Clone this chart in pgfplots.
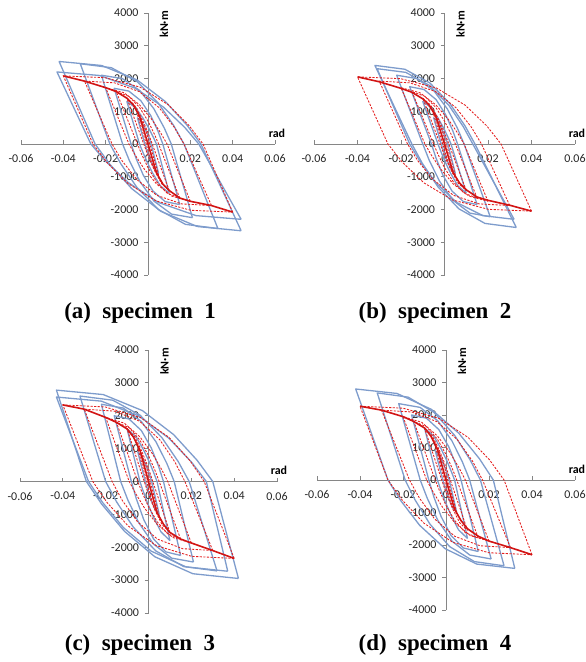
\documentclass[border=0pt]{standalone}
\usepackage{pgfplots}
\pgfplotsset{compat=1.18}
\usepackage{fontspec}
\newfontfamily\tickfont{Carlito}
\newfontfamily\capfont{Liberation Serif}
\definecolor{axgray}{RGB}{134,134,134}
\definecolor{bl}{RGB}{126,156,204}
\definecolor{rd}{RGB}{228,30,30}
\definecolor{rs}{RGB}{210,20,20}
\pgfplotsset{
 panel/.style={
  scale only axis, anchor=south west,
  xmin=-0.06, xmax=0.06, ymin=-4000, ymax=4000,
  axis lines=middle,
  axis line style={draw=axgray, line width=0.8bp, -},
  every inner x axis line/.append style={-},
  every inner y axis line/.append style={-},
  xtick={-0.06,-0.04,-0.02,0,0.02,0.04,0.06},
  xticklabels={-0.06,-0.04,-0.02,0,0.02,0.04,0.06},
  ytick={-4000,-3000,-2000,-1000,0,1000,2000,3000,4000},
  yticklabels={-4000,-3000,-2000,-1000,0,1000,2000,3000,4000},
  scaled x ticks=false, scaled y ticks=false,
  tick style={draw=axgray, line width=0.8bp},
  major tick length=4bp,
  tick align=center,
  every x tick/.append style={yshift=2bp},
  every y tick/.append style={xshift=-2bp},
  hide obscured x ticks=false, hide obscured y ticks=false,
  tick label style={font=\tickfont\fontsize{12}{14}\selectfont, text=black!85},
  xticklabel style={yshift=-5bp},
  yticklabel style={xshift=-4bp},
  clip=false,
 },
 bloop/.style={draw=bl, line width=1.3bp, mark=none, line join=round},
 rloop/.style={draw=rd, line width=0.85bp, dash pattern=on 2.2bp off 1.4bp, mark=none},
 rskel/.style={draw=rs, line width=1.6bp, mark=none},
}
\newcommand{\axlabels}{%
  \node[font=\tickfont\bfseries\fontsize{12}{14}\selectfont, anchor=south, yshift=3bp, xshift=2bp] at (axis cs:0.06,0) {rad};
  \node[xshift=16bp, yshift=3bp, rotate=90, anchor=east, font=\tickfont\bfseries\fontsize{12}{14}\selectfont, inner sep=1bp] at (axis cs:0,4000) {kN·m};
}
\begin{document}
\begin{tikzpicture}
\useasboundingbox (0bp,0bp) rectangle (586bp,662bp);
% ---------------- (a)
\begin{axis}[panel, at={(21bp,387bp)}, width=254bp, height=262bp]
\addplot[bloop] coordinates {(0.005,-900)(0.0015,0)(0.00085,120)(-0.000125,288)(-0.001425,480)(-0.00305,680)(-0.005,800)(-0.0015,0)(-0.00085,-135)(0.000125,-324)(0.001425,-540)(0.00305,-765)(0.005,-900)};
\addplot[bloop] coordinates {(0.01,-1500)(0.004,0)(0.0026,195)(0.0005,468)(-0.0023,780)(-0.0058,1105)(-0.01,1300)(-0.004,0)(-0.0026,-225)(-0.0005,-540)(0.0023,-900)(0.0058,-1275)(0.01,-1500)};
\addplot[bloop] coordinates {(0.015,-1850)(0.007,0)(0.0047,394)(0.00125,872)(-0.00335,1319)(-0.0091,1617)(-0.016,1700)(-0.008,0)(-0.0057,-429)(-0.00225,-949)(0.00235,-1436)(0.0081,-1759)(0.015,-1850)};
\addplot[bloop] coordinates {(0.021,-2250)(0.011,0)(0.0077,487)(0.00275,1077)(-0.00385,1630)(-0.0121,1997)(-0.022,2100)(-0.012,0)(-0.0087,-522)(-0.00375,-1154)(0.00285,-1746)(0.0111,-2140)(0.021,-2250)};
\addplot[bloop] coordinates {(0.033,-2580)(0.017,0)(0.0121,568)(0.00475,1257)(-0.00505,1901)(-0.0173,2330)(-0.032,2450)(-0.018,0)(-0.0129,-599)(-0.00525,-1324)(0.00495,-2002)(0.0177,-2454)(0.033,-2580)};
\addplot[bloop] coordinates {(0.044,-2650)(0.025,0)(0.0183,585)(0.00825,1293)(-0.00515,1956)(-0.0219,2397)(-0.042,2520)(-0.025,0)(-0.0181,-615)(-0.00775,-1359)(0.00605,-2056)(0.0233,-2520)(0.044,-2650)};
\addplot[bloop] coordinates {(0.044,-2300)(0.024,0)(0.0173,510)(0.00725,1129)(-0.00615,1707)(-0.0229,2092)(-0.043,2200)(-0.027,0)(-0.0199,-534)(-0.00925,-1180)(0.00495,-1785)(0.0227,-2187)(0.044,-2300)};
\addplot[rloop] coordinates {(0.005,-950)(0.0008,0)(0.00022,135)(-0.00065,324)(-0.00181,540)(-0.00326,765)(-0.005,900)(-0.0008,0)(-0.00022,-143)(0.00065,-342)(0.00181,-570)(0.00326,-808)(0.005,-950)};
\addplot[rloop] coordinates {(0.01,-1420)(0.002,0)(0.0008,210)(-0.001,504)(-0.0034,840)(-0.0064,1190)(-0.01,1400)(-0.002,0)(-0.0008,-213)(0.001,-511)(0.0034,-852)(0.0064,-1207)(0.01,-1420)};
\addplot[rloop] coordinates {(0.015,-1650)(0.005,0)(0.003,304)(0,700)(-0.004,1116)(-0.009,1456)(-0.015,1600)(-0.005,0)(-0.003,-314)(0,-722)(0.004,-1151)(0.009,-1502)(0.015,-1650)};
\addplot[rloop] coordinates {(0.02,-1750)(0.009,0)(0.0061,327)(0.00175,753)(-0.00405,1200)(-0.0113,1565)(-0.02,1720)(-0.009,0)(-0.0061,-333)(-0.00175,-766)(0.00405,-1221)(0.0113,-1593)(0.02,-1750)};
\addplot[rloop] coordinates {(0.03,-1880)(0.017,0)(0.0123,520)(0.00525,1110)(-0.00415,1601)(-0.0159,1868)(-0.03,1920)(-0.017,0)(-0.0123,-509)(-0.00525,-1087)(0.00415,-1568)(0.0159,-1829)(0.03,-1880)};
\addplot[rloop] coordinates {(0.04,-2080)(0.026,0)(0.0194,564)(0.0095,1202)(-0.0037,1735)(-0.0202,2024)(-0.04,2080)(-0.026,0)(-0.0194,-564)(-0.0095,-1202)(0.0037,-1735)(0.0202,-2024)(0.04,-2080)};
\addplot[rskel] coordinates {(-0.04,2080)(-0.03,1920)(-0.02,1720)(-0.015,1600)(-0.01,1400)(-0.007,1200)(-0.004,850)(0,0)(0.004,-880)(0.007,-1220)(0.01,-1420)(0.015,-1650)(0.02,-1750)(0.03,-1880)(0.04,-2080)};
\axlabels
\end{axis}
% ---------------- (b)
\begin{axis}[panel, at={(314bp,387bp)}, width=261bp, height=262bp]
\addplot[bloop] coordinates {(0.005,-900)(0.0015,0)(0.00085,120)(-0.000125,288)(-0.001425,480)(-0.00305,680)(-0.005,800)(-0.0015,0)(-0.00085,-135)(0.000125,-324)(0.001425,-540)(0.00305,-765)(0.005,-900)};
\addplot[bloop] coordinates {(0.01,-1500)(0.003,0)(0.0017,195)(-0.00025,468)(-0.00285,780)(-0.0061,1105)(-0.01,1300)(-0.003,0)(-0.0017,-225)(0.00025,-540)(0.00285,-900)(0.0061,-1275)(0.01,-1500)};
\addplot[bloop] coordinates {(0.015,-1850)(0.006,0)(0.0038,406)(0.0005,898)(-0.0039,1358)(-0.0094,1664)(-0.016,1750)(-0.006,0)(-0.0039,-429)(-0.00075,-949)(0.00345,-1436)(0.0087,-1759)(0.015,-1850)};
\addplot[bloop] coordinates {(0.021,-2220)(0.009,0)(0.0059,487)(0.00125,1077)(-0.00495,1630)(-0.0127,1997)(-0.022,2100)(-0.01,0)(-0.0069,-515)(-0.00225,-1139)(0.00395,-1723)(0.0117,-2111)(0.021,-2220)};
\addplot[bloop] coordinates {(0.033,-2550)(0.014,0)(0.0094,557)(0.0025,1231)(-0.0067,1862)(-0.0182,2282)(-0.032,2400)(-0.015,0)(-0.0102,-592)(-0.003,-1308)(0.0066,-1979)(0.0186,-2425)(0.033,-2550)};
\addplot[bloop] coordinates {(0.032,-2300)(0.013,0)(0.0086,534)(0.002,1180)(-0.0068,1785)(-0.0178,2187)(-0.031,2300)(-0.016,0)(-0.0112,-534)(-0.004,-1180)(0.0056,-1785)(0.0176,-2187)(0.032,-2300)};
\addplot[rloop] coordinates {(0.005,-950)(0.0008,0)(0.00022,135)(-0.00065,324)(-0.00181,540)(-0.00326,765)(-0.005,900)(-0.0008,0)(-0.00022,-143)(0.00065,-342)(0.00181,-570)(0.00326,-808)(0.005,-950)};
\addplot[rloop] coordinates {(0.01,-1420)(0.002,0)(0.0008,210)(-0.001,504)(-0.0034,840)(-0.0064,1190)(-0.01,1400)(-0.002,0)(-0.0008,-213)(0.001,-511)(0.0034,-852)(0.0064,-1207)(0.01,-1420)};
\addplot[rloop] coordinates {(0.015,-1650)(0.005,0)(0.003,304)(0,700)(-0.004,1116)(-0.009,1456)(-0.015,1600)(-0.005,0)(-0.003,-314)(0,-722)(0.004,-1151)(0.009,-1502)(0.015,-1650)};
\addplot[rloop] coordinates {(0.02,-1750)(0.009,0)(0.0061,327)(0.00175,753)(-0.00405,1200)(-0.0113,1565)(-0.02,1720)(-0.009,0)(-0.0061,-333)(-0.00175,-766)(0.00405,-1221)(0.0113,-1593)(0.02,-1750)};
\addplot[rloop] coordinates {(0.03,-1880)(0.017,0)(0.0123,520)(0.00525,1110)(-0.00415,1601)(-0.0159,1868)(-0.03,1920)(-0.017,0)(-0.0123,-509)(-0.00525,-1087)(0.00415,-1568)(0.0159,-1829)(0.03,-1880)};
\addplot[rloop] coordinates {(0.04,-2050)(0.026,0)(0.0194,556)(0.0095,1185)(-0.0037,1710)(-0.0202,1995)(-0.04,2050)(-0.026,0)(-0.0194,-556)(-0.0095,-1185)(0.0037,-1710)(0.0202,-1995)(0.04,-2050)};
\addplot[rskel] coordinates {(-0.04,2050)(-0.03,1900)(-0.02,1700)(-0.015,1580)(-0.01,1380)(-0.007,1180)(-0.004,850)(0,0)(0.004,-880)(0.007,-1200)(0.01,-1400)(0.015,-1620)(0.02,-1720)(0.03,-1870)(0.04,-2050)};
\axlabels
\end{axis}
% ---------------- (c)
\begin{axis}[panel, at={(20bp,49bp)}, width=257bp, height=263bp]
\addplot[bloop] coordinates {(0.005,-1000)(0.0015,0)(0.00085,135)(-0.000125,324)(-0.001425,540)(-0.00305,765)(-0.005,900)(-0.0015,0)(-0.00085,-150)(0.000125,-360)(0.001425,-600)(0.00305,-850)(0.005,-1000)};
\addplot[bloop] coordinates {(0.01,-1800)(0.004,0)(0.0026,240)(0.0005,576)(-0.0023,960)(-0.0058,1360)(-0.01,1600)(-0.004,0)(-0.0026,-270)(-0.0005,-648)(0.0023,-1080)(0.0058,-1530)(0.01,-1800)};
\addplot[bloop] coordinates {(0.015,-2250)(0.007,0)(0.0047,464)(0.00125,1026)(-0.00335,1552)(-0.0091,1902)(-0.016,2000)(-0.008,0)(-0.0057,-522)(-0.00225,-1154)(0.00235,-1746)(0.0081,-2140)(0.015,-2250)};
\addplot[bloop] coordinates {(0.021,-2450)(0.012,0)(0.0086,545)(0.0035,1206)(-0.0033,1824)(-0.0118,2235)(-0.022,2350)(-0.013,0)(-0.0096,-568)(-0.0045,-1257)(0.0023,-1901)(0.0108,-2330)(0.021,-2450)};
\addplot[bloop] coordinates {(0.032,-2720)(0.019,0)(0.0139,603)(0.00625,1334)(-0.00395,2018)(-0.0167,2473)(-0.032,2600)(-0.02,0)(-0.0148,-631)(-0.007,-1395)(0.0034,-2111)(0.0164,-2587)(0.032,-2720)};
\addplot[bloop] coordinates {(0.042,-2950)(0.03,0)(0.0227,645)(0.01175,1426)(-0.00285,2157)(-0.0211,2644)(-0.043,2780)(-0.029,0)(-0.0219,-684)(-0.01125,-1513)(0.00295,-2289)(0.0207,-2805)(0.042,-2950)};
\addplot[bloop] coordinates {(0.037,-2730)(0.027,0)(0.02,596)(0.0095,1318)(-0.0045,1994)(-0.022,2444)(-0.043,2570)(-0.028,0)(-0.0215,-633)(-0.01175,-1400)(0.00125,-2118)(0.0175,-2596)(0.037,-2730)};
\addplot[rloop] coordinates {(0.005,-1050)(0.0008,0)(0.00022,150)(-0.00065,360)(-0.00181,600)(-0.00326,850)(-0.005,1000)(-0.0008,0)(-0.00022,-158)(0.00065,-378)(0.00181,-630)(0.00326,-893)(0.005,-1050)};
\addplot[rloop] coordinates {(0.01,-1550)(0.002,0)(0.0008,240)(-0.001,576)(-0.0034,960)(-0.0064,1360)(-0.01,1600)(-0.002,0)(-0.0008,-233)(0.001,-558)(0.0034,-930)(0.0064,-1318)(0.01,-1550)};
\addplot[rloop] coordinates {(0.015,-1750)(0.005,0)(0.003,342)(0,788)(-0.004,1256)(-0.009,1638)(-0.015,1800)(-0.005,0)(-0.003,-333)(0,-766)(0.004,-1221)(0.009,-1593)(0.015,-1750)};
\addplot[rloop] coordinates {(0.02,-1870)(0.009,0)(0.0061,371)(0.00175,853)(-0.00405,1360)(-0.0113,1775)(-0.02,1950)(-0.009,0)(-0.0061,-355)(-0.00175,-818)(0.00405,-1304)(0.0113,-1702)(0.02,-1870)};
\addplot[rloop] coordinates {(0.03,-2100)(0.017,0)(0.0123,596)(0.00525,1272)(-0.00415,1835)(-0.0159,2141)(-0.03,2200)(-0.017,0)(-0.0123,-569)(-0.00525,-1214)(0.00415,-1751)(0.0159,-2043)(0.03,-2100)};
\addplot[rloop] coordinates {(0.04,-2340)(0.026,0)(0.0194,631)(0.0095,1347)(-0.0037,1943)(-0.0202,2267)(-0.04,2330)(-0.026,0)(-0.0194,-634)(-0.0095,-1353)(0.0037,-1952)(0.0202,-2277)(0.04,-2340)};
\addplot[rskel] coordinates {(-0.04,2330)(-0.03,2200)(-0.02,1950)(-0.015,1800)(-0.01,1600)(-0.007,1350)(-0.004,950)(0,0)(0.004,-950)(0.007,-1300)(0.01,-1550)(0.015,-1750)(0.02,-1870)(0.03,-2100)(0.04,-2340)};
\axlabels
\end{axis}
% ---------------- (d)
\begin{axis}[panel, at={(317bp,52bp)}, width=258bp, height=260bp]
\addplot[bloop] coordinates {(0.005,-1000)(0.0015,0)(0.00085,135)(-0.000125,324)(-0.001425,540)(-0.00305,765)(-0.005,900)(-0.0015,0)(-0.00085,-150)(0.000125,-360)(0.001425,-600)(0.00305,-850)(0.005,-1000)};
\addplot[bloop] coordinates {(0.01,-1800)(0.004,0)(0.0026,240)(0.0005,576)(-0.0023,960)(-0.0058,1360)(-0.01,1600)(-0.004,0)(-0.0026,-270)(-0.0005,-648)(0.0023,-1080)(0.0058,-1530)(0.01,-1800)};
\addplot[bloop] coordinates {(0.015,-2200)(0.007,0)(0.0047,464)(0.00125,1026)(-0.00335,1552)(-0.0091,1902)(-0.016,2000)(-0.008,0)(-0.0057,-510)(-0.00225,-1129)(0.00235,-1707)(0.0081,-2092)(0.015,-2200)};
\addplot[bloop] coordinates {(0.021,-2430)(0.011,0)(0.0077,545)(0.00275,1206)(-0.00385,1824)(-0.0121,2235)(-0.022,2350)(-0.012,0)(-0.0087,-564)(-0.00375,-1247)(0.00285,-1886)(0.0111,-2311)(0.021,-2430)};
\addplot[bloop] coordinates {(0.027,-2640)(0.016,0)(0.0112,622)(0.004,1375)(-0.0056,2080)(-0.0176,2549)(-0.032,2680)(-0.019,0)(-0.0144,-612)(-0.0075,-1354)(0.0017,-2049)(0.0132,-2511)(0.027,-2640)};
\addplot[bloop] coordinates {(0.032,-2720)(0.022,0)(0.0156,650)(0.006,1436)(-0.0068,2173)(-0.0228,2663)(-0.042,2800)(-0.027,0)(-0.0211,-631)(-0.01225,-1395)(-0.00045,-2111)(0.0143,-2587)(0.032,-2720)};
\addplot[rloop] coordinates {(0.005,-1000)(0.0008,0)(0.00022,158)(-0.00065,378)(-0.00181,630)(-0.00326,893)(-0.005,1050)(-0.0008,0)(-0.00022,-150)(0.00065,-360)(0.00181,-600)(0.00326,-850)(0.005,-1000)};
\addplot[rloop] coordinates {(0.01,-1550)(0.002,0)(0.0008,240)(-0.001,576)(-0.0034,960)(-0.0064,1360)(-0.01,1600)(-0.002,0)(-0.0008,-233)(0.001,-558)(0.0034,-930)(0.0064,-1318)(0.01,-1550)};
\addplot[rloop] coordinates {(0.015,-1780)(0.005,0)(0.003,342)(0,788)(-0.004,1256)(-0.009,1638)(-0.015,1800)(-0.005,0)(-0.003,-338)(0,-779)(0.004,-1242)(0.009,-1620)(0.015,-1780)};
\addplot[rloop] coordinates {(0.02,-1880)(0.009,0)(0.0061,371)(0.00175,853)(-0.00405,1360)(-0.0113,1775)(-0.02,1950)(-0.009,0)(-0.0061,-357)(-0.00175,-823)(0.00405,-1311)(0.0113,-1711)(0.02,-1880)};
\addplot[rloop] coordinates {(0.03,-2080)(0.017,0)(0.0123,583)(0.00525,1243)(-0.00415,1793)(-0.0159,2092)(-0.03,2150)(-0.017,0)(-0.0123,-564)(-0.00525,-1202)(0.00415,-1735)(0.0159,-2024)(0.03,-2080)};
\addplot[rloop] coordinates {(0.04,-2300)(0.027,0)(0.0203,615)(0.01025,1312)(-0.00315,1893)(-0.0199,2209)(-0.04,2270)(-0.027,0)(-0.0203,-623)(-0.01025,-1329)(0.00315,-1918)(0.0199,-2238)(0.04,-2300)};
\addplot[rskel] coordinates {(-0.04,2270)(-0.03,2150)(-0.02,1950)(-0.015,1800)(-0.01,1600)(-0.007,1350)(-0.004,950)(0,0)(0.004,-900)(0.007,-1250)(0.01,-1500)(0.015,-1730)(0.02,-1880)(0.03,-2080)(0.04,-2300)};
\axlabels
\end{axis}
% captions
\node[font=\capfont\bfseries\fontsize{23}{27}\selectfont] at (140bp,349bp) {(a)\hspace{0.5em}specimen\hspace{0.5em}1};
\node[font=\capfont\bfseries\fontsize{23}{27}\selectfont] at (435bp,349bp) {(b)\hspace{0.5em}specimen\hspace{0.5em}2};
\node[font=\capfont\bfseries\fontsize{23}{27}\selectfont] at (140bp,17bp) {(c)\hspace{0.5em}specimen\hspace{0.5em}3};
\node[font=\capfont\bfseries\fontsize{23}{27}\selectfont] at (435bp,17bp) {(d)\hspace{0.5em}specimen\hspace{0.5em}4};
\end{tikzpicture}
\end{document}
